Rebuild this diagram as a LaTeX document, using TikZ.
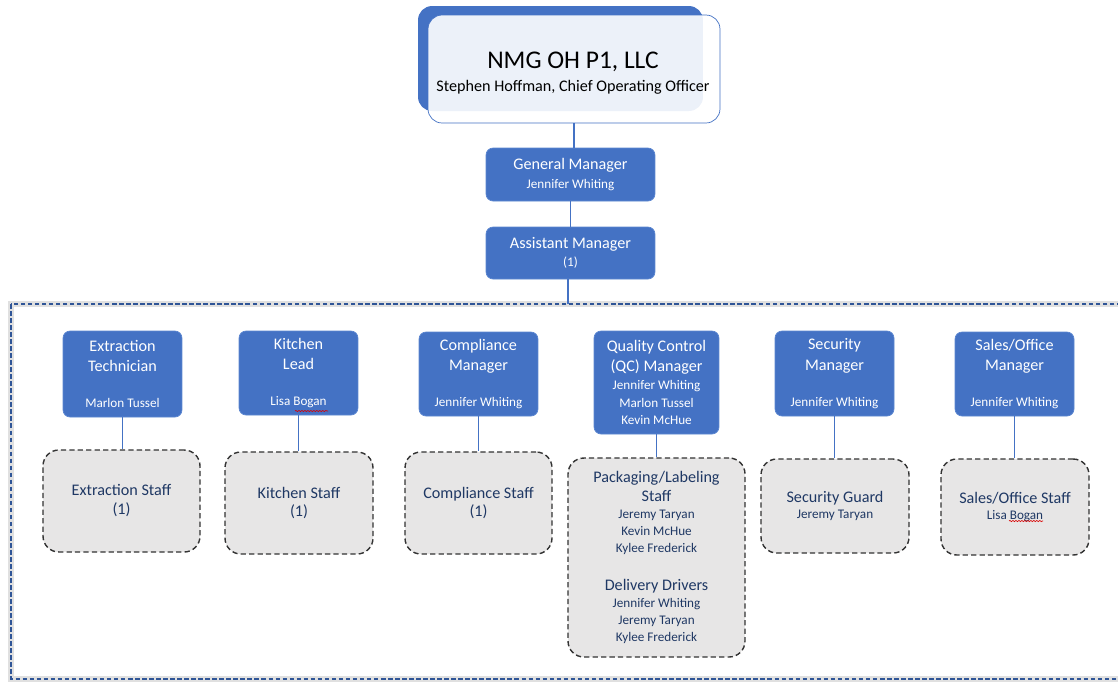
\documentclass[tikz,border=0pt]{standalone}
\usepackage{fontspec}
\setmainfont{Carlito}
\usetikzlibrary{decorations.pathmorphing}

\definecolor{orgblue}{HTML}{4472C4}
\definecolor{orgedge}{HTML}{5B86D0}
\definecolor{staffgray}{HTML}{E7E6E6}
\definecolor{staffnavy}{HTML}{1F3864}
\definecolor{frameblue}{HTML}{2F5597}

\newcommand{\pname}[1]{{\fontsize{7.5}{9.4}\selectfont #1}}

\tikzset{
  mgr/.style={rounded corners=4pt,fill=orgblue,draw=orgedge,text=white,
    align=center,inner sep=0pt,font=\fontsize{9.2}{11.6}\selectfont},
  staff/.style={rounded corners=9pt,fill=staffgray,draw=black!80,dash pattern=on 3pt off 1.8pt,thick,
    text=staffnavy,align=center,inner sep=0pt,font=\fontsize{9.2}{10.8}\selectfont},
  link/.style={orgblue,thick},
  spell/.style={red!85!black,line width=0.35pt,decorate,decoration={snake,amplitude=0.35pt,segment length=1.7pt}},
}

\begin{document}
\begin{tikzpicture}[x=0.02cm,y=-0.02cm]
\useasboundingbox (0,0) rectangle (1118,681);

%Frame
\begin{scope}
\draw[black!12,line width=3pt] (11,304) rectangle (1140,679);
\draw[frameblue,dash pattern=on 2.6pt off 1.4pt,line width=1pt] (11,304) rectangle (1140,679);
\coordinate (frametop) at (568,304);
\end{scope}

%Top
\begin{scope}
\node[fill=orgblue,rounded corners=8pt,minimum width=5.7cm,minimum height=2.1cm] (back) at (560.5,58.5) {};
\node[fill=white,fill opacity=0.9,draw=orgblue,rounded corners=8pt,
  minimum width=5.84cm,minimum height=2.16cm] (coo) at (574,69) {};
\node[align=center,inner sep=0pt] (cootext) at (573,73)
  {{\fontsize{14.5}{15}\selectfont NMG OH P1, LLC}\\[1pt]{\fontsize{9.2}{10}\selectfont Stephen Hoffman, Chief Operating Officer}};

\node[mgr,minimum width=3.38cm,minimum height=1.06cm] (gm) at (570.5,174.5)
  {General Manager\\[-1pt]\pname{Jennifer Whiting}};
\node[mgr,minimum width=3.38cm,minimum height=1.04cm] (asst) at (570.5,253)
  {Assistant Manager\\[-1pt]\pname{(1)}};

\draw[link] (coo.south) -- (coo.south |- gm.north);
\draw[link] (gm.south) -- (asst.north);
\draw[link] (asst.south -| frametop) -- (frametop);
\end{scope}

%Managers
\node[mgr,minimum width=2.38cm,minimum height=1.72cm] (ext) at (122.5,374)
  {Extraction\\Technician\\[9pt]\pname{Marlon Tussel}};
\node[mgr,minimum width=2.38cm,minimum height=1.68cm] (kit) at (298.5,373)
  {Kitchen\\Lead\\[9pt]\pname{Lisa Bogan}};
\node[mgr,minimum width=2.38cm,minimum height=1.68cm] (comp) at (478.5,374)
  {Compliance\\Manager\\[9pt]\pname{Jennifer Whiting}};
\node[mgr,minimum width=2.5cm,minimum height=2.06cm] (qc) at (656.5,382.5)
  {Quality Control\\(QC) Manager\\[-1.5pt]\pname{Jennifer Whiting}\\[-1.5pt]\pname{Marlon Tussel}\\[-1.5pt]\pname{Kevin McHue}};
\node[mgr,minimum width=2.38cm,minimum height=1.7cm] (sec) at (834.5,373.5)
  {Security\\Manager\\[9pt]\pname{Jennifer Whiting}};
\node[mgr,minimum width=2.38cm,minimum height=1.68cm] (sal) at (1014.5,374)
  {Sales/Office\\Manager\\[9pt]\pname{Jennifer Whiting}};

%Staff
\node[staff,minimum width=3.14cm,minimum height=2.04cm] (exs) at (121.5,501)
  {Extraction Staff\\(1)};
\node[staff,minimum width=2.96cm,minimum height=2.04cm] (kis) at (299,503)
  {Kitchen Staff\\(1)};
\node[staff,minimum width=2.94cm,minimum height=2.04cm] (cos) at (478.5,503)
  {Compliance Staff\\(1)};
\node[staff,minimum width=3.54cm,minimum height=3.98cm] (pks) at (656.5,557.5)
  {Packaging/Labeling\\Staff\\[-1pt]\pname{Jeremy Taryan}\\[-1pt]\pname{Kevin McHue}\\[-1pt]\pname{Kylee Frederick}\\[10.5pt]
   Delivery Drivers\\[-1pt]\pname{Jennifer Whiting}\\[-1pt]\pname{Jeremy Taryan}\\[-1pt]\pname{Kylee Frederick}};
\node[staff,minimum width=2.96cm,minimum height=1.88cm] (ses) at (835,506)
  {Security Guard\\[-1.5pt]\pname{Jeremy Taryan}};
\node[staff,minimum width=2.96cm,minimum height=1.92cm] (sas) at (1015,507)
  {Sales/Office Staff\\[-1.5pt]\pname{Lisa Bogan}};

\foreach \m/\s in {ext/exs,kit/kis,comp/cos,qc/pks,sec/ses,sal/sas}
  \draw[link] (\m.south) -- (\m.south |- \s.north);

%Spelling marks
\draw[spell] (295,411) -- (328,411);
\draw[spell] (1009,521) -- (1043,521);

\end{tikzpicture}
\end{document}
